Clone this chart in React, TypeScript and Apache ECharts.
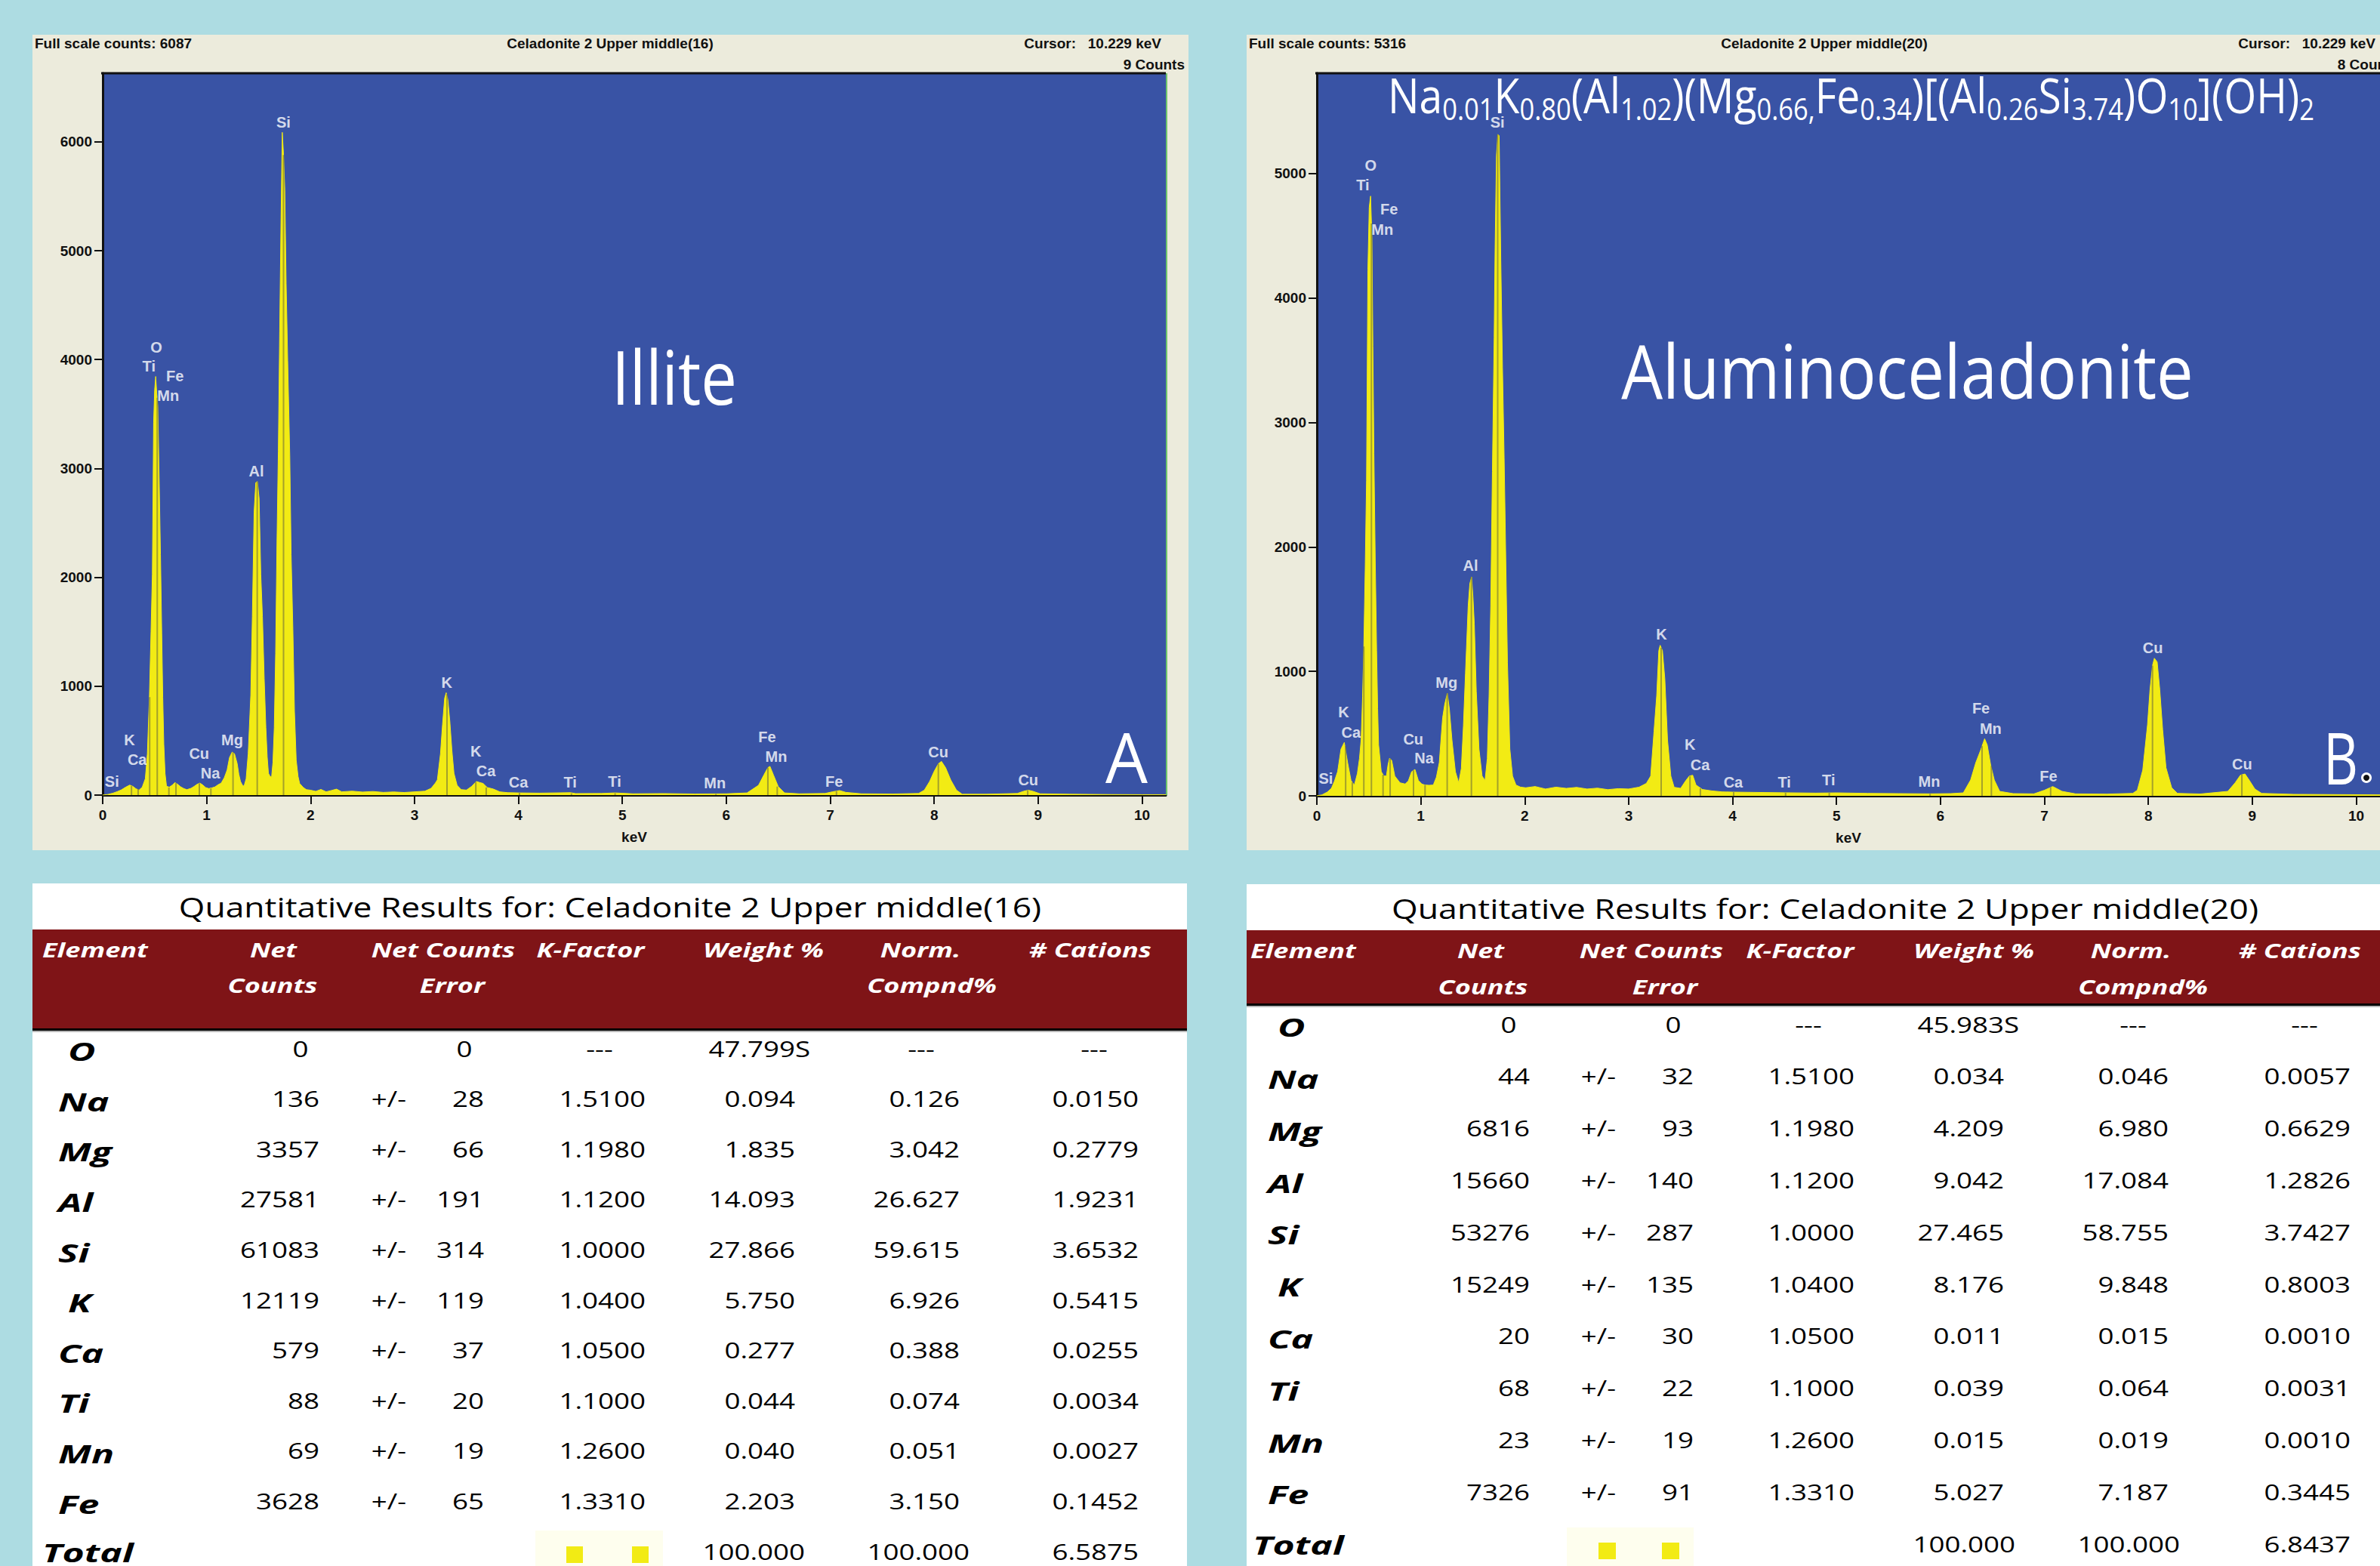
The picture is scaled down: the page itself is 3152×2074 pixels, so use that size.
import React, { useEffect, useRef } from "react";
import * as echarts from "echarts";

const PAGE_W = 3152;
const PAGE_H = 2074;

// ---------------- Spectrum data: [keV, counts] ----------------
const illiteSpectrum: [number, number][] = [
  [0, 0], [0.05, 6], [0.1, 18], [0.14, 32], [0.18, 48], [0.22, 72], [0.26, 92], [0.29, 80], [0.32, 58], [0.35, 46],
  [0.38, 72], [0.41, 150], [0.43, 380], [0.45, 920], [0.465, 1500], [0.478, 2030], [0.49, 3420], [0.5, 3720], [0.51, 3845],
  [0.52, 3690], [0.53, 3570], [0.543, 2920], [0.556, 2210], [0.568, 1490], [0.578, 900], [0.588, 470], [0.6, 200], [0.614, 82],
  [0.64, 72], [0.67, 92], [0.695, 115], [0.72, 100], [0.75, 76], [0.78, 60], [0.81, 50], [0.85, 62], [0.88, 80], [0.91, 100],
  [0.935, 110], [0.96, 95], [0.99, 70], [1.02, 60], [1.05, 66], [1.08, 75], [1.11, 95], [1.14, 110], [1.17, 160], [1.197, 230],
  [1.22, 345], [1.246, 395], [1.268, 380], [1.294, 290], [1.31, 190], [1.326, 125], [1.345, 90], [1.36, 82], [1.38, 150],
  [1.4, 380], [1.425, 920], [1.44, 1640], [1.457, 2600], [1.473, 2870], [1.489, 2880], [1.505, 2725], [1.521, 2030],
  [1.537, 1640], [1.554, 1070], [1.57, 620], [1.583, 350], [1.595, 200], [1.61, 172], [1.625, 165], [1.638, 300], [1.651, 620],
  [1.664, 1300], [1.677, 2330], [1.69, 3160], [1.703, 4260], [1.716, 5300], [1.728, 6087], [1.74, 5880], [1.752, 5560],
  [1.765, 4700], [1.78, 3990], [1.8, 3115], [1.813, 2210], [1.83, 1520], [1.845, 770], [1.862, 320], [1.88, 170], [1.895, 107],
  [1.93, 70], [1.96, 50], [2.0, 45], [2.05, 34], [2.1, 52], [2.15, 30], [2.2, 42], [2.25, 55], [2.3, 30], [2.4, 36], [2.5, 28],
  [2.6, 33], [2.7, 25], [2.8, 29], [2.9, 24], [3.0, 30], [3.1, 36], [3.16, 62], [3.2, 110], [3.22, 140], [3.25, 380], [3.27, 650],
  [3.29, 890], [3.305, 940], [3.32, 880], [3.34, 680], [3.36, 410], [3.38, 200], [3.41, 90], [3.45, 50], [3.5, 46], [3.55, 80],
  [3.595, 125], [3.63, 115], [3.66, 107], [3.7, 70], [3.76, 55], [3.82, 30], [3.9, 22], [4.0, 20], [4.2, 18], [4.5, 22],
  [4.55, 14], [4.8, 15], [4.93, 20], [5.1, 12], [5.4, 14], [5.7, 10], [6.0, 12], [6.2, 20], [6.31, 90], [6.36, 182], [6.4, 252],
  [6.42, 264], [6.455, 182], [6.5, 78], [6.56, 20], [6.7, 12], [6.95, 15], [7.02, 30], [7.09, 42], [7.15, 25], [7.3, 12],
  [7.6, 10], [7.85, 15], [7.905, 45], [7.956, 125], [8.0, 218], [8.04, 287], [8.07, 310], [8.11, 252], [8.16, 138], [8.215, 45],
  [8.27, 8], [8.5, 8], [8.8, 15], [8.86, 35], [8.905, 45], [8.95, 35], [9.02, 12], [9.3, 8], [9.7, 5], [10.0, 4], [10.229, 4],
];

const celadoniteSpectrum: [number, number][] = [
  [0, 0], [0.05, 8], [0.1, 30], [0.14, 60], [0.17, 120], [0.2, 195], [0.232, 375], [0.264, 429], [0.296, 267], [0.329, 123],
  [0.361, 87], [0.39, 180], [0.41, 300], [0.426, 449], [0.44, 800], [0.452, 1203], [0.465, 1814], [0.478, 2535], [0.491, 4226],
  [0.504, 4730], [0.517, 4820], [0.53, 4478], [0.539, 3614], [0.549, 2750], [0.562, 1887], [0.575, 1167], [0.585, 700],
  [0.594, 410], [0.62, 194], [0.645, 160], [0.669, 159], [0.685, 250], [0.7, 303], [0.72, 285], [0.75, 159], [0.8, 105],
  [0.85, 95], [0.88, 120], [0.912, 194], [0.944, 212], [0.977, 123], [1.01, 95], [1.04, 87], [1.08, 85], [1.12, 87], [1.15, 150],
  [1.178, 267], [1.21, 627], [1.23, 734], [1.255, 825], [1.275, 698], [1.3, 449], [1.333, 194], [1.365, 105], [1.39, 220],
  [1.41, 560], [1.43, 986], [1.456, 1527], [1.472, 1706], [1.489, 1760], [1.502, 1598], [1.515, 1380], [1.534, 840], [1.56, 376],
  [1.59, 159], [1.618, 123], [1.64, 300], [1.657, 807], [1.673, 1527], [1.689, 2606], [1.706, 3685], [1.715, 4405], [1.728, 5144],
  [1.741, 5316], [1.754, 5305], [1.77, 4297], [1.786, 3441], [1.802, 2717], [1.818, 1887], [1.834, 1069], [1.857, 376],
  [1.883, 159], [1.916, 87], [1.96, 70], [2.01, 65], [2.1, 75], [2.2, 55], [2.3, 70], [2.4, 60], [2.5, 68], [2.6, 55], [2.7, 62],
  [2.8, 50], [2.9, 58], [3.0, 55], [3.1, 70], [3.17, 100], [3.212, 159], [3.244, 519], [3.27, 807], [3.29, 1167], [3.303, 1210],
  [3.325, 1167], [3.348, 941], [3.374, 449], [3.406, 159], [3.438, 69], [3.5, 60], [3.55, 123], [3.584, 159], [3.616, 166],
  [3.648, 87], [3.71, 51], [3.8, 40], [3.9, 32], [4.0, 30], [4.2, 28], [4.5, 25], [4.8, 22], [5.0, 24], [5.3, 20], [5.6, 18],
  [5.9, 16], [6.1, 18], [6.22, 24], [6.29, 127], [6.34, 267], [6.387, 368], [6.425, 459], [6.45, 409], [6.483, 248], [6.518, 127],
  [6.57, 36], [6.7, 18], [6.9, 16], [7.0, 45], [7.08, 75], [7.17, 36], [7.3, 16], [7.6, 14], [7.85, 20], [7.894, 45], [7.946, 206],
  [7.992, 570], [8.016, 854], [8.04, 1046], [8.058, 1106], [8.085, 1076], [8.11, 854], [8.138, 530], [8.17, 226], [8.225, 65],
  [8.28, 20], [8.5, 15], [8.765, 36], [8.835, 105], [8.886, 166], [8.93, 176], [8.97, 127], [9.025, 55], [9.09, 20], [9.4, 12],
  [9.8, 10], [10.229, 8],
];

// element line markers: [keV, height]
const illiteMarkers: [number, number][] = [
  [0.277, 85], [0.341, 55], [0.452, 900], [0.525, 3650], [0.637, 70], [0.705, 110], [0.93, 108], [1.041, 62], [1.254, 393],
  [1.487, 2880], [1.74, 5880], [3.313, 930], [3.59, 120], [3.69, 70], [4.01, 20], [4.51, 16], [4.93, 18], [5.9, 10], [6.4, 252],
  [6.49, 78], [7.06, 38], [8.04, 287], [8.9, 45],
];
const celadoniteMarkers: [number, number][] = [
  [0.277, 400], [0.341, 110], [0.452, 1200], [0.525, 4600], [0.637, 170], [0.705, 300], [0.93, 205], [1.041, 87], [1.254, 825],
  [1.487, 1760], [1.74, 5316], [3.313, 1190], [3.59, 159], [3.69, 60], [4.01, 30], [4.51, 25], [4.93, 24], [5.9, 16],
  [6.4, 400], [6.49, 240], [7.06, 70], [8.04, 1046], [8.9, 170],
];

// peak labels: [keV, counts, element]
const illitePeakLabels: [number, number, string][] = [
  [0.089, 123, "Si"], [0.257, 505, "K"], [0.332, 324, "Ca"], [0.516, 4114, "O"], [0.445, 3936, "Ti"], [0.695, 3851, "Fe"],
  [0.63, 3672, "Mn"], [0.928, 379, "Cu"], [1.036, 198, "Na"], [1.246, 505, "Mg"], [1.479, 2974, "Al"], [1.739, 6181, "Si"],
  [3.311, 1034, "K"], [3.59, 402, "K"], [3.687, 222, "Ca"], [4.0, 120, "Ca"], [4.498, 120, "Ti"], [4.926, 125, "Ti"],
  [5.89, 109, "Mn"], [6.393, 534, "Fe"], [6.48, 356, "Mn"], [7.037, 125, "Fe"], [8.04, 395, "Cu"], [8.905, 141, "Cu"],
];
const celadonitePeakLabels: [number, number, string][] = [
  [0.086, 141, "Si"], [0.258, 673, "K"], [0.329, 511, "Ca"], [0.517, 5064, "O"], [0.442, 4910, "Ti"], [0.695, 4712, "Fe"],
  [0.63, 4550, "Mn"], [1.738, 5413, "Si"], [0.928, 458, "Cu"], [1.032, 303, "Na"], [1.248, 908, "Mg"], [1.479, 1851, "Al"],
  [3.316, 1300, "K"], [3.59, 411, "K"], [3.688, 249, "Ca"], [4.006, 112, "Ca"], [4.498, 112, "Ti"], [4.924, 125, "Ti"],
  [5.892, 115, "Mn"], [6.39, 702, "Fe"], [6.483, 540, "Mn"], [7.04, 156, "Fe"], [8.043, 1187, "Cu"], [8.902, 257, "Cu"],
];

const keVMax = 10.229;
const illiteYMax = 6630;
const celadoniteYMax = 5807;

// ---------------- Panel texts ----------------
const illiteHeader = ["Full scale counts: 6087", "Celadonite 2 Upper middle(16)", "Cursor:   10.229 keV", "9 Counts"];
const celadoniteHeader = ["Full scale counts: 5316", "Celadonite 2 Upper middle(20)", "Cursor:   10.229 keV", "8 Counts"];
const mineralNames = ["Illite", "Aluminoceladonite"];
const panelLetters = ["A", "B"];
// formula pieces: [text, 'm' main | 's' subscript]
const formulaPieces: [string, string][] = [
  ["Na", "m"], ["0.01", "s"], ["K", "m"], ["0.80", "s"], ["(Al", "m"], ["1.02", "s"], [")(Mg", "m"], ["0.66,", "s"],
  ["Fe", "m"], ["0.34", "s"], [")[(Al", "m"], ["0.26", "s"], ["Si", "m"], ["3.74", "s"], [")O", "m"], ["10", "s"],
  ["](OH)", "m"], ["2", "s"],
];

// ---------------- Table data ----------------
const tableTitles = [
  "Quantitative Results for: Celadonite 2 Upper middle(16)",
  "Quantitative Results for: Celadonite 2 Upper middle(20)",
];
const headerLine1 = ["Element", "Net", "Net Counts", "K-Factor", "Weight %", "Norm.", "# Cations"];
const headerLine2 = ["", "Counts", "Error", "", "", "Compnd%", ""];
const elements = ["O", "Na", "Mg", "Al", "Si", "K", "Ca", "Ti", "Mn", "Fe"];
const kFactors = ["---", "1.5100", "1.1980", "1.1200", "1.0000", "1.0400", "1.0500", "1.1000", "1.2600", "1.3310"];

const illiteNet = ["0", "136", "3357", "27581", "61083", "12119", "579", "88", "69", "3628"];
const illiteErr = ["0", "28", "66", "191", "314", "119", "37", "20", "19", "65"];
const illiteWeight = ["47.799S", "0.094", "1.835", "14.093", "27.866", "5.750", "0.277", "0.044", "0.040", "2.203"];
const illiteNorm = ["---", "0.126", "3.042", "26.627", "59.615", "6.926", "0.388", "0.074", "0.051", "3.150"];
const illiteCations = ["---", "0.0150", "0.2779", "1.9231", "3.6532", "0.5415", "0.0255", "0.0034", "0.0027", "0.1452"];
const illiteTotals = ["100.000", "100.000", "6.5875"];

const celNet = ["0", "44", "6816", "15660", "53276", "15249", "20", "68", "23", "7326"];
const celErr = ["0", "32", "93", "140", "287", "135", "30", "22", "19", "91"];
const celWeight = ["45.983S", "0.034", "4.209", "9.042", "27.465", "8.176", "0.011", "0.039", "0.015", "5.027"];
const celNorm = ["---", "0.046", "6.980", "17.084", "58.755", "9.848", "0.015", "0.064", "0.019", "7.187"];
const celCations = ["---", "0.0057", "0.6629", "1.2826", "3.7427", "0.8003", "0.0010", "0.0031", "0.0010", "0.3445"];
const celTotals = ["100.000", "100.000", "6.8437"];

// ---------------- Styles ----------------
const C_BG = "#ADDCE2";
const C_PANEL = "#ECEBDC";
const C_PLOT = "#3953A5";
const C_YELLOW = "#F2EB14";
const C_RED = "#7F1417";
const F_SPEC = '"Liberation Sans", Arial, sans-serif';
const F_TBL = '"Open Sans", "Noto Sans", sans-serif';

function makeMeasure() {
  const c = document.createElement("canvas");
  const ctx = c.getContext("2d") as CanvasRenderingContext2D;
  return (t: string, font: string) => {
    ctx.font = font;
    return ctx.measureText(t).width;
  };
}

function T(text: string, x: number, y: number, font: string, fill: string, align: string, sx = 1, z = 100): any {
  return {
    type: "text",
    x,
    y,
    z,
    silent: true,
    scaleX: sx,
    style: { text, font, fill, textAlign: align, align, textVerticalAlign: "middle", verticalAlign: "middle" },
  };
}
function R(x: number, y: number, w: number, h: number, fill: string, z = -50): any {
  return { type: "rect", z, silent: true, shape: { x, y, width: w, height: h }, style: { fill } };
}
function L(x1: number, y1: number, x2: number, y2: number, stroke: string, lw: number, z = 50): any {
  return { type: "line", z, silent: true, shape: { x1, y1, x2, y2 }, style: { stroke, lineWidth: lw } };
}

type TableCfg = {
  x0: number; top: number; w: number; titleCx: number; titleY: number; titleW: number;
  hdrTop: number; hdrBot: number; h1: number; h2: number; row0: number; pitch: number;
  elemX: number; totalX: number; hdrX: number[]; hdrX2: number[];
  net: [number, number]; pm: number; err: [number, number]; kf: [number, number];
  wt: [number, number]; nm: [number, number, number]; ca: [number, number, number];
  hl: { x: number; w: number; y: number; sq: number[]; sqY: number; sqW: number; sqH: number };
};

const leftTable: TableCfg = {
  x0: 43, top: 1170, w: 1529, titleCx: 808, titleY: 1201, titleW: 1143,
  hdrTop: 1231, hdrBot: 1362, h1: 1257, h2: 1304, row0: 1388, pitch: 66.6,
  elemX: 77, totalX: 56, hdrX: [56, 362, 587, 782, 1011, 1219, 1444], hdrX2: [0, 361, 599, 0, 0, 1234, 0],
  net: [423, 398], pm: 515, err: [641, 615], kf: [855, 794], wt: [1053, 1066], nm: [1271, 1220, 1284], ca: [1508, 1449, 1508],
  hl: { x: 709, w: 169, y: 2027, sq: [750, 837], sqY: 2048, sqW: 22, sqH: 22 },
};
const rightTable: TableCfg = {
  x0: 1651, top: 1171, w: 1501, titleCx: 2417, titleY: 1203, titleW: 1148,
  hdrTop: 1232, hdrBot: 1329, h1: 1258, h2: 1306, row0: 1356, pitch: 68.8,
  elemX: 1679, totalX: 1659, hdrX: [1656, 1961, 2187, 2384, 2614, 2822, 3046], hdrX2: [0, 1964, 2205, 0, 0, 2838, 0],
  net: [2026, 1998], pm: 2117, err: [2243, 2216], kf: [2456, 2395], wt: [2654, 2669], nm: [2872, 2825, 2887], ca: [3113, 3052, 3113],
  hl: { x: 2075, w: 168, y: 2023, sq: [2117, 2201], sqY: 2043, sqW: 23, sqH: 22 },
};

function buildTable(cfg: TableCfg, title: string, net: string[], err: string[], wt: string[], nm: string[], ca: string[], totals: string[], M: (t: string, f: string) => number) {
  const els: any[] = [];
  const fTitle = `normal 37px ${F_TBL}`;
  const fHdr = `italic bold 27px ${F_TBL}`;
  const fNum = `normal 30px ${F_TBL}`;
  const fEl = `italic bold 34px ${F_TBL}`;
  const sTitle = cfg.titleW / M(title, fTitle);
  const sHdr = 140 / M("Element", fHdr);
  const sNum = 21 / M("0", fNum);
  const sEl = 71 / M("Mg", fEl);
  const bottom = PAGE_H;
  els.push(R(cfg.x0, cfg.top, cfg.w, bottom - cfg.top, "#FFFFFF", -60));
  els.push(R(cfg.x0, cfg.hdrTop, cfg.w, cfg.hdrBot - cfg.hdrTop, C_RED, -55));
  els.push(R(cfg.x0, cfg.hdrBot, cfg.w, 3, "#000000", -54));
  els.push(R(cfg.x0, cfg.hdrBot + 3, cfg.w, 2, "#B8B8B8", -54));
  els.push(T(title, cfg.titleCx, cfg.titleY, fTitle, "#000", "center", sTitle));
  headerLine1.forEach((h, i) => {
    els.push(T(h, cfg.hdrX[i], cfg.h1, fHdr, "#FFFFFF", i === 0 ? "left" : "center", sHdr));
  });
  headerLine2.forEach((h, i) => {
    if (h) els.push(T(h, cfg.hdrX2[i], cfg.h2, fHdr, "#FFFFFF", "center", sHdr));
  });
  // highlight in total row
  els.push(R(cfg.hl.x, cfg.hl.y, cfg.hl.w, bottom - cfg.hl.y, "#FEFEEE", -52));
  cfg.hl.sq.forEach((sx) => els.push(R(sx, cfg.hl.sqY, cfg.hl.sqW, cfg.hl.sqH, C_YELLOW, -51)));

  const num = (t: string, x: number, y: number, align = "right") => els.push(T(t, x, y, fNum, "#000", align, sNum));
  elements.forEach((el, i) => {
    const y = cfg.row0 + i * cfg.pitch;
    els.push(T(el, cfg.elemX + (el.length === 1 ? 13 : 0), y + 4, fEl, "#000", "left", sEl));
    if (i === 0) {
      num(net[i], cfg.net[1], y, "center");
      num(err[i], cfg.err[1], y, "center");
    } else {
      num(net[i], cfg.net[0], y);
      num("+/-", cfg.pm, y, "center");
      num(err[i], cfg.err[0], y);
    }
    if (kFactors[i] === "---") num("---", cfg.kf[1], y, "center");
    else num(kFactors[i], cfg.kf[0], y);
    const w = wt[i];
    if (w.endsWith("S")) {
      num(w.slice(0, -1), cfg.wt[0], y);
      num("S", cfg.wt[0], y, "left");
    } else num(w, cfg.wt[0], y);
    if (nm[i] === "---") num("---", cfg.nm[1], y, "center");
    else num(nm[i], cfg.nm[0], y);
    if (ca[i] === "---") num("---", cfg.ca[1], y, "center");
    else num(ca[i], cfg.ca[0], y);
  });
  const yT = cfg.row0 + elements.length * cfg.pitch;
  els.push(T("Total", cfg.totalX, yT + 2, fEl, "#000", "left", sEl));
  num(totals[0], cfg.wt[1], yT);
  num(totals[1], cfg.nm[2], yT);
  num(totals[2], cfg.ca[2], yT);
  return els;
}

function xAxisDef(gridIndex: number) {
  return {
    type: "value",
    gridIndex,
    min: 0,
    max: keVMax,
    interval: 1,
    axisLine: { show: true, onZero: false, lineStyle: { color: "#111", width: 3 } },
    axisTick: { show: true, length: 12, lineStyle: { color: "#111", width: 2 } },
    axisLabel: { color: "#111", fontSize: 19, fontWeight: "bold", fontFamily: F_SPEC, margin: 17, formatter: (v: number) => String(v) },
    splitLine: { show: false },
    name: "keV",
    nameLocation: "middle",
    nameGap: 46,
    nameTextStyle: { color: "#111", fontSize: 19, fontWeight: "bold", fontFamily: F_SPEC, verticalAlign: "top" },
  };
}
function yAxisDef(gridIndex: number, max: number) {
  return {
    type: "value",
    gridIndex,
    min: 0,
    max,
    interval: 1000,
    axisLine: { show: true, onZero: false, lineStyle: { color: "#111", width: 3 } },
    axisTick: { show: true, length: 11, lineStyle: { color: "#111", width: 2 } },
    axisLabel: {
      color: "#111", fontSize: 19, fontWeight: "bold", fontFamily: F_SPEC, margin: 14, showMaxLabel: false,
      formatter: (v: number) => String(v),
    },
    splitLine: { show: false },
  };
}

function spectrumSeries(idx: number, data: [number, number][], markers: [number, number][], labels: [number, number, string][]) {
  return [
    {
      type: "line",
      xAxisIndex: idx,
      yAxisIndex: idx,
      data,
      symbol: "none",
      showSymbol: false,
      lineStyle: { color: C_YELLOW, width: 1 },
      areaStyle: { color: C_YELLOW, opacity: 1 },
      z: 2,
      silent: true,
    },
    {
      type: "bar",
      xAxisIndex: idx,
      yAxisIndex: idx,
      data: markers,
      barWidth: 2,
      itemStyle: { color: "rgba(100,100,60,0.55)" },
      z: 3,
      silent: true,
    },
    {
      type: "scatter",
      xAxisIndex: idx,
      yAxisIndex: idx,
      data: labels,
      symbolSize: 1,
      itemStyle: { color: "rgba(0,0,0,0)" },
      label: {
        show: true,
        position: "inside",
        formatter: (p: any) => p.data[2],
        color: "#FFFFFF",
        fontSize: 20,
        fontWeight: "bold",
        fontFamily: F_SPEC,
      },
      z: 5,
      silent: true,
    },
  ];
}

export default function App() {
  const ref = useRef<HTMLDivElement>(null);
  useEffect(() => {
    if (!ref.current) return;
    const chart = echarts.init(ref.current, null, { renderer: "svg", width: PAGE_W, height: PAGE_H });
    const M = makeMeasure();
    const g: any[] = [];

    // panel backgrounds
    const panels = [
      { x: 43, plotL: 136, plotR: 1544, hdr: illiteHeader },
      { x: 1651, plotL: 1744, plotR: 3154, hdr: celadoniteHeader },
    ];
    const fHead = `bold 19px ${F_SPEC}`;
    panels.forEach((p, i) => {
      g.push(R(p.x, 46, 1531, 1080, C_PANEL, -60));
      g.push(L(p.plotL - 2, 97, p.plotR, 97, "#111", 3));
      g.push(L(p.plotR + 1, 97, p.plotR + 1, 1053, "#6CC46C", 2));
      const off = i * 1608;
      g.push(T(p.hdr[0], 46 + off, 57, fHead, "#111", "left"));
      g.push(T(p.hdr[1], 808 + off, 57, fHead, "#111", "center"));
      g.push(T(p.hdr[2], 1538 + off, 57, fHead, "#111", "right"));
      g.push(T(p.hdr[3], 1569 + off, 85, fHead, "#111", "right"));
    });

    // mineral names
    const fBig = `normal 98px ${F_TBL}`;
    g.push(T(mineralNames[0], 893, 498, fBig, "#FFFFFF", "center", 166 / M(mineralNames[0], fBig)));
    g.push(T(mineralNames[1], 2526, 490, fBig, "#FFFFFF", "center", 758 / M(mineralNames[1], fBig)));
    const fA = `normal 91px ${F_TBL}`;
    const fB = `normal 96px ${F_TBL}`;
    g.push(T(panelLetters[0], 1492, 1002, fA, "#FFFFFF", "center", 56 / M(panelLetters[0], fA)));
    g.push(T(panelLetters[1], 3100, 1002, fB, "#FFFFFF", "center", 46 / M(panelLetters[1], fB)));
    g.push({ type: "circle", z: 100, silent: true, shape: { cx: 3134, cy: 1030, r: 7 }, style: { fill: "#FFFFFF" } });
    g.push({ type: "circle", z: 101, silent: true, shape: { cx: 3134, cy: 1030, r: 4 }, style: { fill: "#111" } });

    // formula
    const fMain = `normal 64px ${F_TBL}`;
    const fSub = `normal 40px ${F_TBL}`;
    let cx = 0;
    const kids: any[] = [];
    formulaPieces.forEach(([t, k]) => {
      const f = k === "m" ? fMain : fSub;
      kids.push(T(t, cx, k === "m" ? 125 : 143, f, "#FFFFFF", "left", 1, 100));
      cx += M(t, f);
    });
    g.push({ type: "group", x: 1838, y: 0, scaleX: 1227 / cx, z: 100, children: kids });

    // tables
    g.push(...buildTable(leftTable, tableTitles[0], illiteNet, illiteErr, illiteWeight, illiteNorm, illiteCations, illiteTotals, M));
    g.push(...buildTable(rightTable, tableTitles[1], celNet, celErr, celWeight, celNorm, celCations, celTotals, M));

    const option: any = {
      animation: false,
      backgroundColor: C_BG,
      grid: [
        { left: 136, top: 97, width: 1408, height: 956, show: true, backgroundColor: C_PLOT, borderWidth: 0 },
        { left: 1744, top: 97, width: 1410, height: 957, show: true, backgroundColor: C_PLOT, borderWidth: 0 },
      ],
      xAxis: [xAxisDef(0), xAxisDef(1)],
      yAxis: [yAxisDef(0, illiteYMax), yAxisDef(1, celadoniteYMax)],
      series: [
        ...spectrumSeries(0, illiteSpectrum, illiteMarkers, illitePeakLabels),
        ...spectrumSeries(1, celadoniteSpectrum, celadoniteMarkers, celadonitePeakLabels),
      ],
      graphic: { elements: g },
    };
    chart.setOption(option);
    return () => chart.dispose();
  }, []);
  return (
    <div
      ref={ref}
      style={{ position: "absolute", left: 0, top: 0, width: PAGE_W, height: PAGE_H, overflow: "hidden" }}
    />
  );
}
